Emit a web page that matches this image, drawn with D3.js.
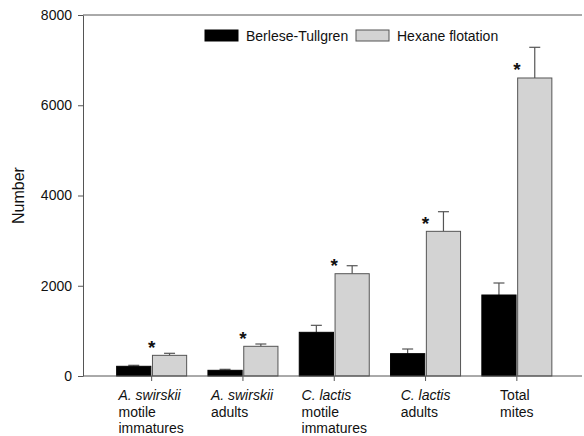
<!DOCTYPE html>
<html lang="en">
<head>
<meta charset="utf-8">
<title>Mites extracted</title>
<script src="https://d3js.org/d3.v7.min.js"></script>
<style>
  body { margin: 0; background: #fff; }
  text { font-family: "Liberation Sans", Arial, sans-serif; }
</style>
</head>
<body>
<script>
// data
const categories = [
  ["A. swirskii", "motile", "immatures"],
  ["A. swirskii", "adults"],
  ["C. lactis", "motile", "immatures"],
  ["C. lactis", "adults"],
  ["Total", "mites"]
];
const italicFirst = [true, true, true, true, false];
const series = ["Berlese-Tullgren", "Hexane flotation"];
const berlese = [215, 126, 968, 495, 1795];
const berleseErr = [22, 22, 155, 103, 266];
const hexane = [458, 658, 2267, 3206, 6604];
const hexaneErr = [45, 51, 177, 435, 680];
const significant = [true, true, true, true, true];
const yTicks = [0, 2000, 4000, 6000, 8000];

const width = 584, height = 436;
const mLeft = 83, mRight = 582, mTop = 15, mBottom = 376;

const svg = d3.select("body").append("svg")
  .attr("width", width)
  .attr("height", height);

const y = d3.scaleLinear().domain([0, 8000]).range([mBottom, mTop]);

// groups
const x0 = d3.scaleBand().domain(d3.range(categories.length)).range([106, 562.5]);
const bw = x0.bandwidth();
const x1 = d3.scaleBand().domain(series).range([bw / 2 - 35, bw / 2 + 35]).paddingInner(0.045);

const colors = { "Berlese-Tullgren": "#000", "Hexane flotation": "#d3d3d3" };
const rows = categories.map((c, i) => [
  { s: series[0], v: berlese[i], e: berleseErr[i] },
  { s: series[1], v: hexane[i], e: hexaneErr[i] }
]);

const grp = svg.append("g").selectAll("g")
  .data(rows)
  .join("g")
  .attr("transform", (d, i) => `translate(${x0(i)},0)`);

// error bars (drawn first so the bar covers the lower half)
grp.selectAll("g.err")
  .data(d => d)
  .join("g")
  .attr("class", "err")
  .each(function (d) {
    const cx = x1(d.s) + x1.bandwidth() / 2;
    const g = d3.select(this);
    g.append("line")
      .attr("x1", cx).attr("x2", cx)
      .attr("y1", y(d.v)).attr("y2", y(d.v + d.e))
      .attr("stroke", "#555").attr("stroke-width", 1.2);
    g.append("line")
      .attr("x1", cx - 5.5).attr("x2", cx + 5.5)
      .attr("y1", y(d.v + d.e)).attr("y2", y(d.v + d.e))
      .attr("stroke", "#555").attr("stroke-width", 1.2);
  });

grp.selectAll("rect")
  .data(d => d)
  .join("rect")
  .attr("x", d => x1(d.s))
  .attr("width", x1.bandwidth())
  .attr("y", d => y(d.v))
  .attr("height", d => y(0) - y(d.v))
  .attr("fill", d => colors[d.s])
  .attr("stroke", d => d.s === series[0] ? "#000" : "#555")
  .attr("stroke-width", 1);

// significance stars
svg.append("g").selectAll("text")
  .data(hexane.map((v, i) => ({ v, i })).filter(d => significant[d.i]))
  .join("text")
  .attr("x", d => x0(d.i) + bw / 2)
  .attr("y", d => y(d.v) - 11.5 + 10)
  .attr("text-anchor", "middle")
  .attr("font-size", 19)
  .attr("font-weight", "bold")
  .attr("fill", "#111")
  .text("*");

// y axis
const yAxis = svg.append("g")
  .attr("transform", `translate(${mLeft},0)`)
  .call(d3.axisLeft(y).tickValues(yTicks).tickFormat(d3.format("d"))
    .tickSize(5).tickPadding(6).tickSizeOuter(0));
yAxis.select(".domain").attr("stroke", "#555");
yAxis.selectAll(".tick line").attr("stroke", "#555");
yAxis.selectAll(".tick text").attr("font-size", 14).attr("fill", "#111")
  .attr("font-family", "'Liberation Sans', Arial, sans-serif");

// top frame line
svg.append("line")
  .attr("x1", mLeft).attr("x2", mRight)
  .attr("y1", mTop).attr("y2", mTop)
  .attr("stroke", "#555");

// x axis
const xAxis = svg.append("g")
  .attr("transform", `translate(0,${mBottom})`);
xAxis.append("line")
  .attr("x1", mLeft).attr("x2", mRight)
  .attr("stroke", "#555");
xAxis.selectAll("line.tk")
  .data(categories)
  .join("line")
  .attr("class", "tk")
  .attr("x1", (d, i) => x0(i) + bw / 2)
  .attr("x2", (d, i) => x0(i) + bw / 2)
  .attr("y1", 0).attr("y2", 5)
  .attr("stroke", "#555");

// multi-line category labels, left-aligned block centred on tick
xAxis.selectAll("text")
  .data(categories)
  .join("text")
  .attr("font-size", 14)
  .attr("fill", "#111")
  .each(function (lines, i) {
    const t = d3.select(this);
    lines.forEach((ln, k) => {
      t.append("tspan")
        .attr("x", 0)
        .attr("y", 24 + k * 16.5)
        .attr("font-style", k === 0 && italicFirst[i] ? "italic" : null)
        .text(ln);
    });
    const w = this.getBBox().width;
    t.attr("transform", `translate(${x0(i) + bw / 2 - w / 2},0)`);
  });

// y label
svg.append("text")
  .attr("transform", `translate(24,${(mTop + mBottom) / 2}) rotate(-90)`)
  .attr("text-anchor", "middle")
  .attr("font-size", 16)
  .attr("fill", "#111")
  .text("Number");

// legend
const leg = svg.append("g");
const legX = [205, 356];
series.forEach((s, i) => {
  leg.append("rect")
    .attr("x", legX[i]).attr("y", 30)
    .attr("width", 33).attr("height", 11)
    .attr("fill", colors[s])
    .attr("stroke", i === 0 ? "#000" : "#555");
  leg.append("text")
    .attr("x", legX[i] + 41).attr("y", 40.5)
    .attr("font-size", 14)
    .attr("fill", "#111")
    .text(s);
});
</script>
</body>
</html>
